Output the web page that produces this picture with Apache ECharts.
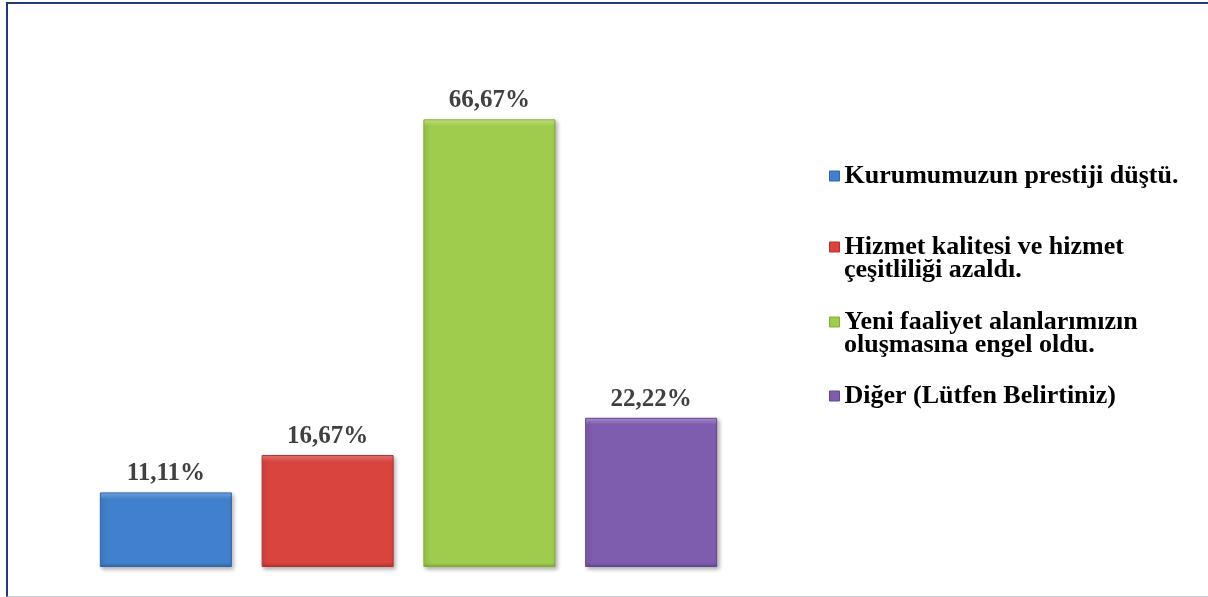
<!DOCTYPE html>
<html>
<head>
<meta charset="utf-8">
<script src="https://cdn.jsdelivr.net/npm/echarts@6/dist/echarts.min.js"></script>
<style>
  html, body { margin: 0; padding: 0; background: #fff; }
  #wrap { position: relative; width: 1208px; height: 597px; overflow: hidden; }
  #frame {
    position: absolute; left: 6px; top: 2px; width: 1210px; height: 592px;
    border-top: 2px solid #1f3b73; border-left: 2px solid #1f3b73;
    border-bottom: 1px solid #c9cbe3;
  }
  #chart { position: absolute; left: 0; top: 0; width: 1208px; height: 597px; }
</style>
</head>
<body>
<div id="wrap">
  <div id="frame"></div>
  <div id="chart"></div>
</div>
<script>
// seçenekler ve yüzdeler
const categories = ['Kurumumuzun prestiji düştü.', 'Hizmet kalitesi ve hizmet çeşitliliği azaldı.',
  'Yeni faaliyet alanlarımızın oluşmasına engel oldu.', 'Diğer (Lütfen Belirtiniz)'];
// lejant satırları (ikinci satır lejant ikonunun altına ayrı yazılır)
const legendFirstLines = ['Kurumumuzun prestiji düştü.', 'Hizmet kalitesi ve hizmet',
  'Yeni faaliyet alanlarımızın', 'Diğer (Lütfen Belirtiniz)'];
const legendSecondLines = ['', 'çeşitliliği azaldı.', 'oluşmasına engel oldu.', ''];
const values = [11.11, 16.67, 66.67, 22.22];

// renk: [üst açık, ana, alt koyu]
const palette = [
  ['#79b0ee', '#4180cc', '#3266a8'],
  ['#f47c78', '#d9443f', '#b3302d'],
  ['#cdf088', '#a0cc4e', '#82ab37'],
  ['#b196dc', '#7f5dae', '#63478e']
];
const legendCenters = [176, 247, 322, 396];
const FONT = 'Liberation Serif';
const LEGEND_SIZE = 26;
const LINE_GAP = 23.5;
const PX_PER_UNIT = 470 / 70; // grid yüksekliği / eksen max

const chart = echarts.init(document.getElementById('chart'));

// üstte ~7px açık, altta ~4px koyu şerit (eğim efekti)
const bevel = (i, v) => {
  const h = v * PX_PER_UNIT;
  const t = Math.min(7 / h, 0.3);
  const b = Math.min(4 / h, 0.2);
  return new echarts.graphic.LinearGradient(0, 0, 0, 1, [
    { offset: 0, color: palette[i][0] },
    { offset: t, color: palette[i][1] },
    { offset: 1 - b, color: palette[i][1] },
    { offset: 1, color: palette[i][2] }
  ]);
};

const series = categories.map((name, i) => ({
  name: name,
  type: 'bar',
  stack: 'all',
  barWidth: 132,
  data: categories.map((c, j) => (j === i ? values[i] : '-')),
  itemStyle: {
    color: bevel(i, values[i]),
    borderColor: palette[i][2],
    borderWidth: 1,
    shadowColor: 'rgba(0,0,0,0.3)',
    shadowBlur: 4,
    shadowOffsetX: 2,
    shadowOffsetY: 2
  },
  label: {
    show: true,
    position: 'top',
    distance: 6,
    color: '#404040',
    fontFamily: FONT,
    fontWeight: 'bold',
    fontSize: 25,
    formatter: p => p.value.toFixed(2).replace('.', ',') + '%'
  }
}));

const legends = categories.map((name, i) => ({
  data: [{ name: name, icon: 'rect', itemStyle: { color: palette[i][1], borderColor: palette[i][2], borderWidth: 1 } }],
  left: 829,
  top: legendCenters[i] - LEGEND_SIZE / 2,
  padding: 0,
  itemWidth: 10,
  itemHeight: 10,
  selectedMode: false,
  formatter: () => legendFirstLines[i],
  textStyle: {
    color: '#000',
    fontFamily: FONT,
    fontWeight: 'bold',
    fontSize: LEGEND_SIZE,
    lineHeight: LEGEND_SIZE
  }
}));

const secondLines = legendSecondLines
  .map((t, i) => ({ t, i }))
  .filter(d => d.t)
  .map(d => ({
    type: 'text',
    left: 844,
    top: legendCenters[d.i] + LINE_GAP - LEGEND_SIZE / 2,
    style: {
      text: d.t,
      fill: '#000',
      font: 'bold ' + LEGEND_SIZE + 'px ' + FONT,
      lineHeight: LEGEND_SIZE
    }
  }));

chart.setOption({
  animation: false,
  grid: { left: 85, width: 647, top: 97, bottom: 30 },
  xAxis: {
    type: 'category',
    data: categories,
    show: false
  },
  yAxis: {
    type: 'value',
    min: 0,
    max: 70,
    show: false,
    splitLine: { show: false }
  },
  legend: legends,
  graphic: secondLines,
  series: series
});
</script>
</body>
</html>
